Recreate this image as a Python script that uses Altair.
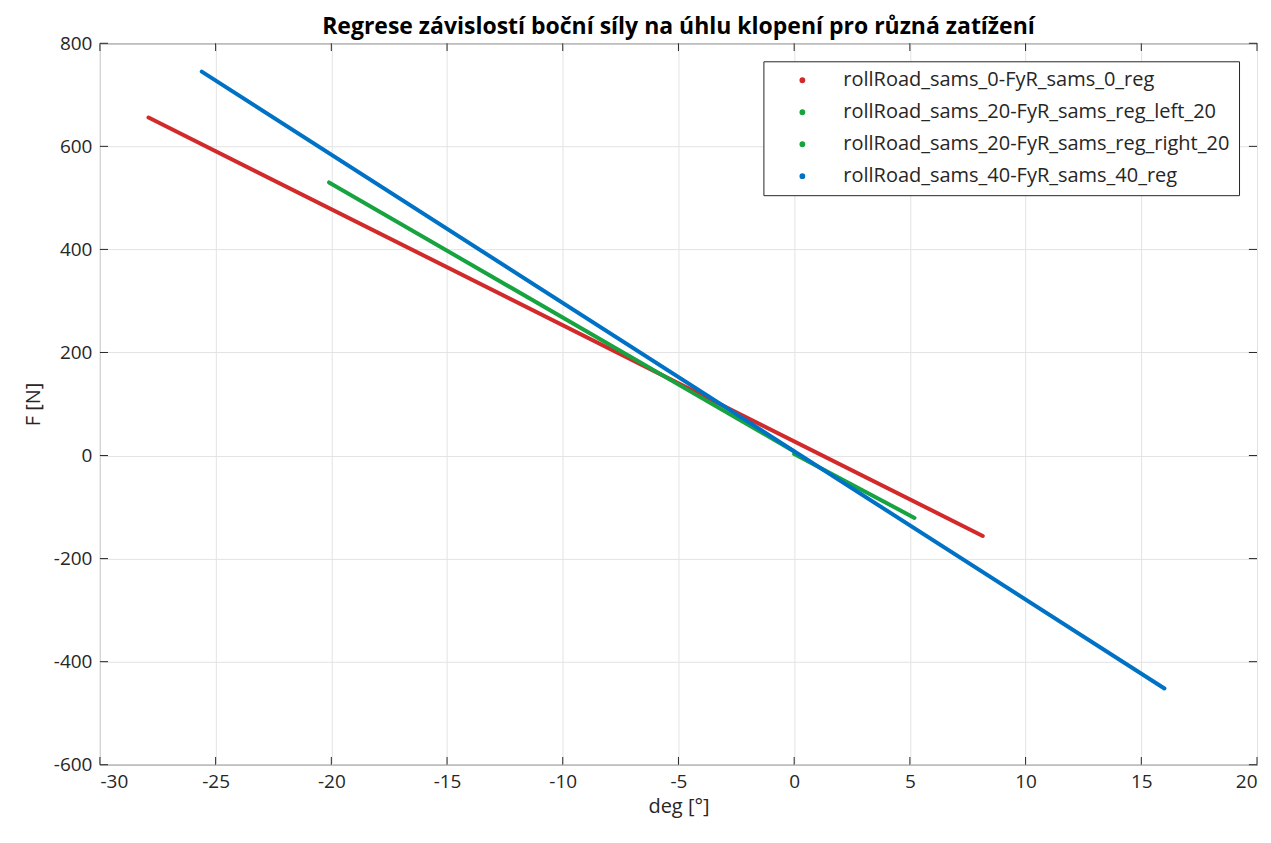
import altair as alt
import pandas as pd

series = [
    "rollRoad_sams_0-FyR_sams_0_reg",
    "rollRoad_sams_20-FyR_sams_reg_left_20",
    "rollRoad_sams_20-FyR_sams_reg_right_20",
    "rollRoad_sams_40-FyR_sams_40_reg",
]
colors = ["#D22A2A", "#16A340", "#16A340", "#0072C6"]

# endpoints of each regression line (deg, F)
x_start = [-27.9, -20.1, 0.0, -25.6]
y_start = [656, 530, 3, 745]
x_end = [8.15, 0.0, 5.2, 16.0]
y_end = [-156, 8, -121, -452]

x_ticks = list(range(-30, 21, 5))
y_ticks = list(range(-600, 801, 200))

rows = []
for i, s in enumerate(series):
    rows.append({"series": s, "order": 0, "deg": x_start[i], "F": y_start[i]})
    rows.append({"series": s, "order": 1, "deg": x_end[i], "F": y_end[i]})
df = pd.DataFrame(rows)

xt = pd.DataFrame({"deg": x_ticks})
yt = pd.DataFrame({"F": y_ticks})

font = "Open Sans"
xs = alt.Scale(domain=[-30, 20], nice=False, zero=False)
ys = alt.Scale(domain=[-600, 800], nice=False, zero=False)

lines = (
    alt.Chart(df)
    .mark_line(strokeWidth=4, strokeCap="round")
    .encode(
        x=alt.X("deg:Q", scale=xs,
                axis=alt.Axis(values=x_ticks, title="deg [°]", labelExpr="'' + datum.value")),
        y=alt.Y("F:Q", scale=ys,
                axis=alt.Axis(values=y_ticks, title="F [N]", labelExpr="'' + datum.value")),
        color=alt.Color(
            "series:N",
            scale=alt.Scale(domain=series, range=colors),
            sort=series,
            legend=alt.Legend(
                title=None,
                orient="top-right",
                offset=18,
                symbolType="circle",
                symbolSize=8,
                symbolStrokeWidth=3,
                labelFontSize=20,
                labelFont=font,
                labelColor="#262626",
                rowPadding=12,
                padding=9,
                strokeColor="#262626",
                fillColor="white",
                labelOffset=31,
                symbolOffset=20,
                labelLimit=600,
            ),
        ),
        detail="series:N",
        order="order:Q",
    )
)

tick_style = dict(color="#262626", strokeWidth=1)
bottom_ticks = alt.Chart(xt).mark_rule(**tick_style).encode(
    x="deg:Q", y=alt.datum(-600), y2=alt.datum(-585))
top_ticks = alt.Chart(xt).mark_rule(**tick_style).encode(
    x="deg:Q", y=alt.datum(800), y2=alt.datum(785))
left_ticks = alt.Chart(yt).mark_rule(**tick_style).encode(
    y="F:Q", x=alt.datum(-30), x2=alt.datum(-29.65))
right_ticks = alt.Chart(yt).mark_rule(**tick_style).encode(
    y="F:Q", x=alt.datum(20), x2=alt.datum(19.65))

chart = (
    alt.layer(lines, bottom_ticks, top_ticks, left_ticks, right_ticks)
    .properties(
        width=1158,
        height=722,
        title=alt.TitleParams(
            "Regrese závislostí boční síly na úhlu klopení pro různá zatížení",
            fontSize=23,
            font=font,
            fontWeight="bold",
            color="black",
            offset=-5,
        ),
        padding={"left": 15, "top": 8, "right": 5, "bottom": 5},
    )
    .configure_view(stroke="#262626", strokeWidth=1)
    .configure_axis(
        grid=True,
        gridColor="#e3e3e3",
        gridWidth=1,
        ticks=False,
        domain=False,
        labelFont=font,
        labelFontSize=19,
        labelColor="#262626",
        labelPadding=8,
        titleFont=font,
        titleFontSize=20,
        titleFontWeight="normal",
        titleColor="#262626",
    )
    .configure_axisY(titlePadding=10)
    .configure_axisX(titlePadding=5)
)

chart.save("out.html", embed_options={"renderer": "svg", "actions": False})
